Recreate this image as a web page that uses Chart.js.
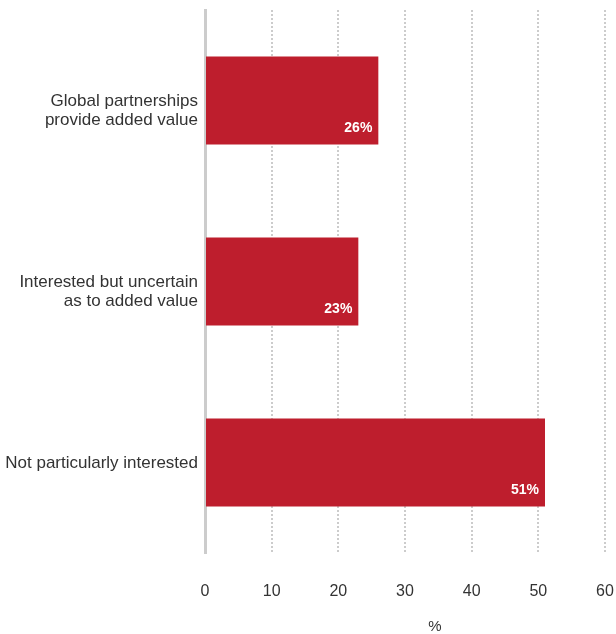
<!DOCTYPE html>
<html>
<head>
<meta charset="utf-8">
<script src="https://cdn.jsdelivr.net/npm/chart.js@4.4.0/dist/chart.umd.min.js"></script>
<style>
html,body{margin:0;padding:0;background:#fff;}
#wrap{width:616px;height:634px;position:relative;}
</style>
</head>
<body>
<div id="wrap"><canvas id="c" width="616" height="634"></canvas></div>
<script>
const categories = [
  ["Global partnerships", "provide added value"],
  ["Interested but uncertain", "as to added value"],
  ["Not particularly interested"]
];
const values = [26, 23, 51];
const valueLabels = ["26%", "23%", "51%"];
const xTicks = [0, 10, 20, 30, 40, 50, 60];
const xTitle = "%";

const barLabelPlugin = {
  id: 'barLabels',
  afterDatasetsDraw(chart) {
    const ctx = chart.ctx;
    const meta = chart.getDatasetMeta(0);
    ctx.save();
    ctx.fillStyle = '#ffffff';
    ctx.font = 'bold 14px "Liberation Sans", Arial, sans-serif';
    ctx.textAlign = 'right';
    ctx.textBaseline = 'alphabetic';
    meta.data.forEach((bar, i) => {
      const bottom = bar.y + bar.height / 2;
      ctx.fillText(valueLabels[i], bar.x - 6, bottom - 12);
    });
    // axis title
    const xs = chart.scales.x;
    ctx.fillStyle = '#333333';
    ctx.font = '15px "Liberation Sans", Arial, sans-serif';
    ctx.textAlign = 'center';
    ctx.textBaseline = 'middle';
    ctx.fillText(xTitle, xs.getPixelForValue(34.5), chart.height - 7);
    ctx.restore();
  }
};

new Chart(document.getElementById('c'), {
  type: 'bar',
  data: {
    labels: categories,
    datasets: [{
      data: values,
      backgroundColor: '#be1e2d',
      borderWidth: 0,
      barPercentage: 0.486,
      categoryPercentage: 1.0
    }]
  },
  options: {
    indexAxis: 'y',
    responsive: false,
    animation: false,
    devicePixelRatio: 1,
    layout: { padding: { top: 10, right: 11, left: 0, bottom: 0 } },
    plugins: { legend: { display: false }, tooltip: { enabled: false } },
    scales: {
      x: {
        min: 0,
        max: 60,
        afterBuildTicks(scale) { scale.ticks = xTicks.map(v => ({ value: v })); },
        afterFit(scale) { scale.height = 81; scale.paddingLeft = 0; scale.paddingRight = 0; },
        border: { display: false, dash: [2, 2] },
        grid: {
          drawTicks: false,
          color: ctx => ctx.tick && ctx.tick.value === 0 ? 'rgba(0,0,0,0)' : '#cccccc',
          lineWidth: 2
        },
        ticks: {
          padding: 29,
          color: '#333333',
          font: { family: '"Liberation Sans", Arial, sans-serif', size: 16 }
        }
      },
      y: {
        afterTickToLabelConversion(scale) {
          // the source places multi-line labels with the first line at the bar centre
          scale.ticks.forEach(t => {
            if (Array.isArray(t.label) && t.label.length > 1) t.label = [""].concat(t.label);
          });
        },
        afterFit(scale) { scale.width = 205; scale.paddingTop = 0; scale.paddingBottom = 0; },
        border: { display: true, color: '#cccccc', width: 3 },
        grid: { display: false, drawTicks: false },
        ticks: {
          padding: 7,
          labelOffset: 1,
          color: '#333333',
          font: { family: '"Liberation Sans", Arial, sans-serif', size: 17, lineHeight: 1.13 }
        }
      }
    }
  },
  plugins: [barLabelPlugin]
});
</script>
</body>
</html>
